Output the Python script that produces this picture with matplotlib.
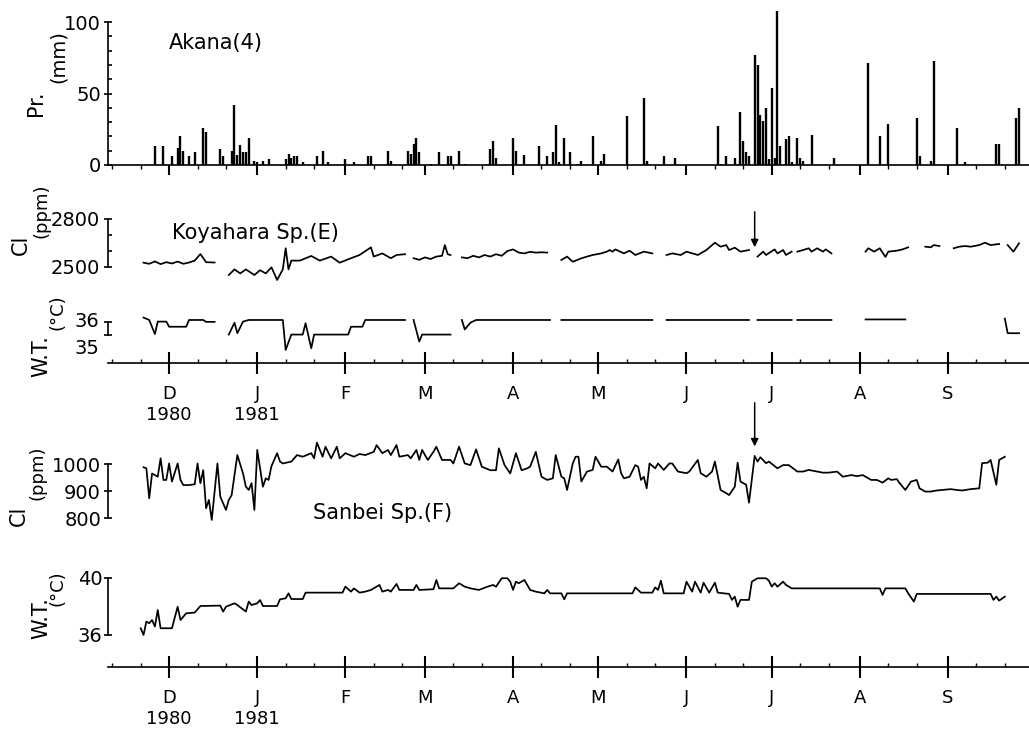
import numpy as np
import matplotlib
matplotlib.use('Agg')
import matplotlib.pyplot as plt
import matplotlib.dates as mdates
from matplotlib.ticker import FixedLocator, FuncFormatter, NullFormatter

plt.rcParams['font.family'] = ['DejaVu Sans']

# ---- data (day numbers counted from 1 Dec 1980) ----
base = np.datetime64('1980-12-01')

# Akana (4) daily precipitation, mm
rain_day = [-5, -2, 1, 3, 4, 5, 7, 9, 12, 13, 18, 19, 22, 23, 24, 25, 26, 27, 28, 30,
            31, 33, 35, 41, 42, 43, 44, 45, 47, 52, 54, 56, 62, 65, 70, 71, 77, 78, 84, 85,
            86, 87, 88, 92, 95, 98, 99, 102, 104, 113, 114, 115, 121, 122, 125, 130, 133, 135,
            136, 137, 139, 141, 144, 145, 149, 152, 153, 161, 167, 168, 174, 178, 193, 194,
            196, 199, 201, 202, 203, 204, 206, 207, 208, 209, 210, 211, 212, 213, 214, 215,
            217, 218, 219, 221, 222, 223, 226, 234, 246, 250, 253, 263, 264, 268, 269, 277,
            280, 291, 292, 298, 299]
rain_mm = [13, 13, 6, 12, 20, 10, 6, 9, 26, 23, 11, 6, 10, 42, 7, 14, 9, 9, 19, 3,
           2, 3, 4, 4, 8, 5, 6, 6, 2, 6, 10, 2, 4, 2, 6, 6, 10, 3, 10, 8,
           15, 19, 9, 1, 9, 6, 6, 10, 1, 11, 17, 5, 19, 10, 7, 13, 6, 9,
           28, 2, 19, 9, 1, 3, 20, 3, 8, 34, 47, 3, 6, 5, 27, 1,
           6, 5, 37, 17, 9, 6, 77, 70, 35, 31, 40, 4, 54, 5, 108, 13,
           18, 20, 2, 19, 5, 3, 21, 5, 71, 20, 29, 33, 6, 3, 73, 26,
           2, 15, 15, 33, 40]

# Koyahara Sp.(E) chloride, ppm (nan = no record)
nan = np.nan
cl_e_day = [-9, -7, -5, -3, -1, 1, 3, 5, 7, 9, 11, 13, 16, 18,
            21, 23, 25, 27, 30, 32, 34, 36, 38, 40, 41, 42, 43, 46, 50, 53, 57, 60, 64, 67,
            71, 72, 75, 78, 80, 83, 84,
            86, 88, 90, 92, 94, 96, 97, 98, 99, 101,
            103, 105, 107, 109, 111, 113, 115, 117, 119, 121, 123, 125, 127, 129, 131, 133, 135,
            138, 140, 142, 145, 147, 149, 152, 154, 155, 156, 157, 160, 162, 164, 167, 170, 172,
            175, 177, 180, 182, 186, 189, 192, 194, 196, 197, 199, 201, 204, 205,
            207, 209, 210, 213, 214, 216, 217, 219, 220,
            221, 223, 225, 226, 228, 230, 231, 233, 240,
            245, 246, 248, 250, 252, 253, 256, 258, 260, 263,
            266, 268, 269, 271, 274,
            276, 278, 280, 282, 285, 287, 289, 292, 293,
            295, 297, 299]
cl_e_ppm = [2527, 2520, 2535, 2518, 2530, 2522, 2534, 2520, 2528, 2540, 2581, 2530, 2528, nan,
            2450, 2485, 2460, 2485, 2450, 2480, 2460, 2498, 2419, 2485, 2617, 2485, 2540, 2540,
            2569, 2540, 2565, 2527, 2555, 2575, 2623, 2565, 2585, 2555, 2575, 2580, nan,
            2555, 2545, 2560, 2550, 2565, 2570, 2637, 2580, 2575, nan,
            2560, 2555, 2570, 2560, 2575, 2565, 2580, 2570, 2600, 2610, 2590, 2585, 2595, 2590,
            2592, 2590, nan,
            2544, 2565, 2533, 2554, 2565, 2575, 2585, 2596, 2606, 2596, 2610, 2585, 2602, 2575,
            2596, 2585, nan,
            2575, 2585, 2575, 2596, 2575, 2606, 2652, 2627, 2637, 2606, 2621, 2596, 2606, nan,
            2565, 2596, 2575, 2610, 2585, 2606, 2575, 2596, nan,
            2596, 2606, 2617, 2596, 2617, 2596, 2610, 2585, nan,
            2596, 2617, 2596, 2617, 2563, 2596, 2602, 2610, 2623, nan,
            2627, 2623, 2637, 2631, nan,
            2617, 2627, 2631, 2627, 2637, 2652, 2637, 2644, nan,
            2637, 2596, 2648]

# Koyahara Sp.(E) water temperature, deg C
wt_e_day = [-9, -7, -5, -4, -1, 0, 6, 7, 12, 13, 16, 18,
            21, 23, 24, 26, 28, 40, 41, 43, 47, 48, 50, 51, 63, 64, 68, 69, 83, 84,
            86, 88, 89, 99, 101,
            103, 104, 106, 108, 134, 136,
            138, 170, 172, 175, 204, 205, 207, 219, 220, 221, 233, 240, 245, 259, 262,
            294, 295, 299]
wt_e_c = [36.09, 36.0, 35.48, 35.94, 35.94, 35.75, 35.75, 36.0, 36.0, 35.93, 35.93, nan,
          35.46, 35.9, 35.51, 35.94, 36.0, 36.0, 34.89, 35.46, 35.46, 35.88, 34.95, 35.46,
          35.46, 35.75, 35.75, 36.0, 36.0, nan,
          36.0, 35.2, 35.46, 35.46, nan,
          36.0, 35.65, 35.9, 36.0, 36.0, nan,
          36.0, 36.0, nan, 36.0, 36.0, nan, 36.0, 36.0, nan, 36.0, 36.0, nan, 36.02, 36.02, nan,
          36.05, 35.51, 35.51]

# Sanbei Sp.(F) chloride, ppm
cl_f_day = [-9, -8, -7, -6, -4, -3, -2, -1, 0, 1, 3, 4, 5, 7, 9, 10, 11, 12, 13, 14,
            15, 17, 18, 20, 21, 22, 24, 26, 27, 28, 29, 30, 31, 33, 34, 35, 36, 38, 39, 40,
            43, 45, 47, 50, 51, 52, 54, 55, 57, 59, 60, 62, 65, 67, 69, 72, 73, 75, 77, 78,
            80, 81, 84, 85, 87, 88, 89, 91, 93, 94, 96, 99, 100, 102, 104, 106, 108, 110, 113, 115,
            116, 118, 120, 122, 124, 126, 127, 129, 131, 133, 135, 136, 138, 139, 140, 142, 143, 144,
            145, 147, 149, 150, 152, 154, 156, 158, 159, 160, 162, 164, 165, 166, 167, 168, 169, 171,
            172, 174, 176, 177, 179, 182, 183, 186, 187, 189, 191, 192, 194, 196, 197, 199, 200, 201,
            203, 204, 206, 207, 208, 210, 211, 214, 216, 218, 221, 223, 225, 228, 230, 232, 235, 237,
            240, 242, 244, 247, 249, 251, 253, 254, 256, 257, 259, 261, 263, 264, 266, 268, 270, 272,
            275, 277, 279, 282, 285, 286, 288, 289, 291, 292, 294]
cl_f_ppm = [988, 984, 873, 965, 953, 1021, 941, 941, 1002, 935, 1002, 941, 922, 922, 925, 1002, 929, 977, 836, 867,
            793, 1002, 879, 830, 867, 885, 1033, 965, 916, 904, 929, 830, 1052, 916, 947, 941, 992, 1040, 1009, 1002,
            1009, 1033, 1027, 1040, 1021, 1079, 1027, 1064, 1021, 1064, 1021, 1040, 1027, 1037, 1033, 1045, 1070, 1040, 1052, 1033,
            1070, 1027, 1033, 1021, 1052, 1015, 1052, 1015, 1045, 1064, 1015, 1015, 1002, 1064, 1002, 996, 1054, 990, 977, 977,
            1058, 996, 965, 1040, 977, 984, 990, 1045, 953, 941, 947, 1033, 953, 947, 904, 1002, 1027, 1027,
            935, 972, 978, 1027, 990, 990, 972, 1017, 966, 947, 953, 996, 990, 941, 953, 910, 1002, 984,
            1002, 978, 1002, 1002, 972, 966, 972, 1015, 966, 953, 972, 1009, 904, 892, 885, 916, 1005, 935,
            923, 857, 1030, 1009, 1025, 1003, 1009, 984, 996, 996, 972, 972, 978, 972, 968, 968, 972, 953,
            959, 955, 959, 941, 941, 931, 947, 941, 944, 929, 904, 935, 941, 910, 898, 898, 902, 904,
            907, 904, 902, 907, 910, 1003, 1005, 1015, 923, 1015, 1027]

# Sanbei Sp.(F) water temperature, deg C
wt_f_day = [-10, -9, -8, -7, -6, -5, -4, -3, 1, 3, 4, 5, 6, 9, 11, 18, 19, 20, 23, 24,
            27, 28, 29, 31, 32, 33, 38, 39, 41, 42, 43, 47, 48, 61, 62, 64, 65, 67, 69, 71,
            74, 75, 77, 78, 80, 81, 86, 87, 88, 93, 94, 95, 100, 102, 104, 106, 109, 112, 114, 115,
            117, 119, 120, 121, 122, 123, 125, 126, 127, 129, 132, 133, 134, 138, 139, 140, 163, 164,
            166, 170, 171, 172, 173, 174, 181, 182, 184, 185, 187, 188, 190, 192, 193, 197, 198, 199,
            200, 201, 204, 205, 207, 210, 211, 212, 213, 214, 216, 217, 219, 250, 251, 252, 259, 260,
            262, 263, 289, 290, 291, 292, 294]
wt_f_c = [36.47, 36.0, 36.94, 36.82, 37.05, 36.59, 37.75, 36.47, 36.47, 37.98, 37.05, 37.28, 37.52, 37.57, 38.03, 38.06, 37.64, 37.98, 38.22, 38.10,
          37.64, 38.34, 38.10, 38.22, 38.45, 38.03, 38.03, 38.5, 38.57, 38.92, 38.52, 38.52, 38.97, 38.97, 39.39, 39.04, 39.27, 38.97, 39.04, 39.16,
          39.51, 39.04, 39.16, 39.04, 39.58, 39.16, 39.16, 39.51, 39.16, 39.21, 39.86, 39.27, 39.27, 39.63, 39.39, 39.27, 39.16, 39.39, 39.51, 39.39,
          39.98, 39.98, 39.74, 39.16, 39.74, 39.63, 39.86, 39.51, 39.16, 39.04, 38.92, 39.16, 38.92, 38.92, 38.5, 38.92, 38.92, 39.34,
          38.97, 38.97, 39.34, 39.16, 39.81, 38.92, 38.92, 39.74, 39.04, 39.74, 38.97, 39.67, 38.97, 39.67, 38.97, 38.88, 38.46, 38.69,
          37.98, 38.46, 38.46, 39.74, 39.98, 39.98, 39.81, 39.39, 39.63, 39.39, 39.74, 39.51, 39.27, 39.27, 38.81, 39.27, 39.27, 38.92,
          38.34, 38.88, 38.88, 38.46, 38.69, 38.41, 38.69]

# arrows mark the same day on both chloride records
arrow_day = 206


def to_date(days):
    return base + np.array(days).astype('timedelta64[D]')


# ---- layout helpers (pixel positions of the 1029 x 729 figure) ----
W, H = 1029, 729
fig = plt.figure(figsize=(W / 100, H / 100), dpi=100)


def add_ax(top, bottom, left=108, right=1029):
    return fig.add_axes([left / W, 1 - bottom / H, (right - left) / W, (bottom - top) / H])


def ftext(x, y, s, ha='center', **kw):
    fig.text(x / W, 1 - y / H, s, ha=ha, va='center', **kw)


x0 = np.datetime64('1980-11-09T12:00')
x1 = np.datetime64('1981-09-29T12:00')

ax_pr = add_ax(5, 165)
ax_cle = add_ax(195, 285)
ax_wte = add_ax(300, 363)
ax_clf = add_ax(430, 540)
ax_wtf = add_ax(565, 667)

LW = 1.25
for ax in (ax_pr, ax_cle, ax_wte, ax_clf, ax_wtf):
    ax.set_facecolor('none')
    for s in ('top', 'right'):
        ax.spines[s].set_visible(False)
    for s in ('left', 'bottom'):
        ax.spines[s].set_linewidth(1.2)
    ax.set_xlim(x0, x1)
    ax.tick_params(axis='y', labelsize=14, width=1.2, which='both')

# precipitation: one thin bar per rainy day
ax_pr.vlines(to_date(rain_day), 0, rain_mm, color='black', lw=1.7)
ax_pr.set_ylim(0, 111.9)
ax_pr.spines['left'].set_bounds(0, 100)
ax_pr.set_yticks([0, 50, 100])
ax_pr.yaxis.set_minor_locator(FixedLocator(np.arange(10, 100, 10)))
ax_pr.tick_params(axis='y', which='major', direction='inout', length=6, pad=2)
ax_pr.tick_params(axis='y', which='minor', direction='in', length=3)

# Koyahara chloride
ax_cle.plot(to_date(cl_e_day), cl_e_ppm, color='black', lw=LW)
ax_cle.set_ylim(2387.5, 2950)
ax_cle.spines['left'].set_bounds(2500, 2800)
ax_cle.spines['bottom'].set_visible(False)
ax_cle.set_yticks([2500, 2800])
ax_cle.yaxis.set_minor_locator(FixedLocator([2600, 2700]))
ax_cle.tick_params(axis='y', which='major', direction='inout', length=6, pad=3)
ax_cle.tick_params(axis='y', which='minor', direction='in', length=3)
ax_cle.annotate('', xy=(to_date([arrow_day])[0], 2606), xytext=(to_date([arrow_day])[0], 2862),
                arrowprops=dict(arrowstyle='-|>', color='black', lw=1.1, mutation_scale=11),
                annotation_clip=False)

# Koyahara water temperature
ax_wte.plot(to_date(wt_e_day), wt_e_c, color='black', lw=LW)
ax_wte.set_ylim(34.407, 36.74)
ax_wte.spines['left'].set_bounds(35.45, 35.92)
ax_wte.set_yticks([35, 36])
ax_wte.yaxis.set_minor_locator(FixedLocator([35.45, 35.92]))
ax_wte.tick_params(axis='y', which='major', length=0, pad=6)
ax_wte.tick_params(axis='y', which='minor', direction='inout', length=6)

# Sanbei chloride
ax_clf.plot(to_date(cl_f_day), cl_f_ppm, color='black', lw=LW)
ax_clf.set_ylim(718.8, 1125.8)
ax_clf.spines['left'].set_bounds(800, 1000)
ax_clf.spines['bottom'].set_visible(False)
ax_clf.set_yticks([800, 900, 1000])
ax_clf.tick_params(axis='y', which='major', direction='inout', length=6, pad=2)
ax_clf.annotate('', xy=(to_date([arrow_day])[0], 1055), xytext=(to_date([arrow_day])[0], 1237),
                arrowprops=dict(arrowstyle='-|>', color='black', lw=1.1, mutation_scale=11),
                annotation_clip=False)

# Sanbei water temperature
ax_wtf.plot(to_date(wt_f_day), wt_f_c, color='black', lw=LW)
ax_wtf.set_ylim(33.75, 40.91)
ax_wtf.spines['left'].set_bounds(36, 40)
ax_wtf.set_yticks([36, 40])
ax_wtf.tick_params(axis='y', which='major', direction='inout', length=6, pad=1)


# time axes
def month_label(x, pos):
    d = mdates.num2date(x)
    s = d.strftime('%b')[0]
    if (d.year, d.month) in [(1980, 12), (1981, 1)]:
        s += '\n' + str(d.year)
    return s


for ax in (ax_pr, ax_cle, ax_clf):
    ax.xaxis.set_major_locator(mdates.MonthLocator())
    ax.xaxis.set_minor_locator(mdates.DayLocator(bymonthday=[11, 21]))
    ax.xaxis.set_major_formatter(NullFormatter())
for ax in (ax_cle, ax_clf):
    ax.tick_params(axis='x', which='both', length=0)
ax_pr.tick_params(axis='x', which='major', direction='out', length=7, width=1.5)
ax_pr.tick_params(axis='x', which='minor', direction='out', length=3, width=1)

for ax in (ax_wte, ax_wtf):
    ax.xaxis.set_major_locator(mdates.MonthLocator())
    ax.xaxis.set_minor_locator(mdates.DayLocator(bymonthday=[11, 21]))
    ax.xaxis.set_major_formatter(FuncFormatter(month_label))
    ax.tick_params(axis='x', which='major', direction='inout', length=16, width=1.5,
                   labelsize=13, pad=8)
    ax.tick_params(axis='x', which='minor', direction='in', length=3, width=1)

# panel titles and rotated axis names
ftext(216, 43, 'Akana(4)', fontsize=15)
ftext(172, 233, 'Koyahara Sp.(E)', ha='left', fontsize=15)
ftext(383, 513, 'Sanbei Sp.(F)', fontsize=15)

ftext(36, 103, 'Pr.', fontsize=15, rotation=90)
ftext(58, 57, '(mm)', fontsize=14, rotation=90)
ftext(21, 245, 'Cl', fontsize=15, rotation=90)
ftext(41, 211, '(ppm)', fontsize=13, rotation=90)
ftext(41, 356, 'W.T.', fontsize=15, rotation=90)
ftext(58, 312, '(°C)', fontsize=13, rotation=90)
ftext(19, 516, 'Cl', fontsize=15, rotation=90)
ftext(38, 473, '(ppm)', fontsize=13, rotation=90)
ftext(41, 618, 'W.T.', fontsize=15, rotation=90)
ftext(57, 588, '(°C)', fontsize=13, rotation=90)

fig.savefig('out.png', dpi=100, facecolor='white')
